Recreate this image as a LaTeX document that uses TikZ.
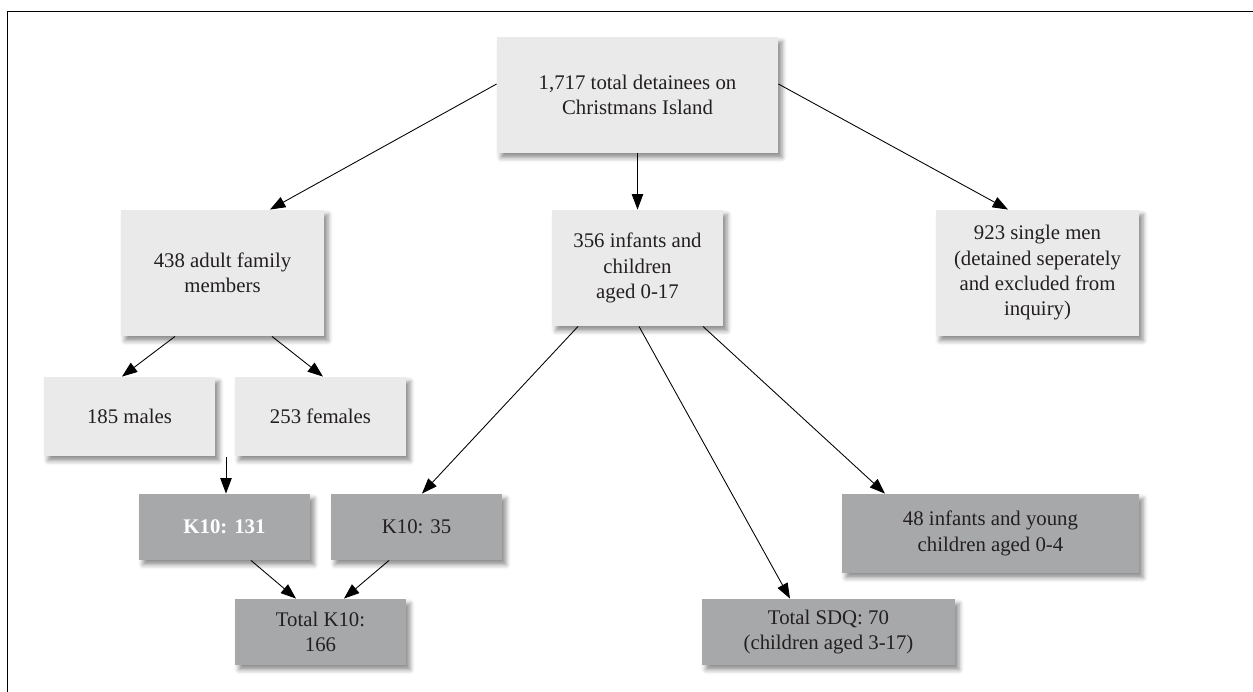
\documentclass[tikz,border=0pt]{standalone}
\usepackage{fontspec}
\setmainfont{Liberation Serif}
\usepackage{tikz}
\usetikzlibrary{calc}
\usetikzlibrary{arrows.meta}
\usetikzlibrary{shadows.blur}

\definecolor{boxlight}{HTML}{EAEAEA}
\definecolor{boxdark}{HTML}{A7A8AA}
\definecolor{txtdark}{HTML}{231F20}

\tikzset{
    basebox/.style={rectangle, inner sep=0pt, align=center, text=txtdark,
        font=\fontsize{15.6}{19}\selectfont,
        blur shadow={shadow xshift=3pt, shadow yshift=-3.5pt,
            shadow blur radius=3.5pt, shadow opacity=45}},
    lightbox/.style={basebox, fill=boxlight},
    darkbox/.style={basebox, fill=boxdark},
}

\begin{document}
\begin{tikzpicture}[x=0.75pt, y=-0.75pt, >={Triangle[length=11.5pt,width=8.5pt]},
    line width=0.65pt]
    \useasboundingbox (0,0) rectangle (1253,692);
    \draw[line width=1.3pt] (7.5,692) -- (7.5,11.5) -- (1253,11.5);

    \foreach \nm/\cx/\cy/\w/\h/\txt in {
        top/637.5/95/281/116/{1,717 total detainees on\\Christmans Island},
        adult/222.5/273/203/126/{438 adult family\\members},
        children/637.5/268/171/116/{356 infants and\\children\\aged 0-17},
        single/1037.5/273/203/126/{923 single men\\(detained seperately\\and excluded from\\inquiry)},
        males/129.5/416.5/171/79/{185 males},
        females/320.5/416.5/171/79/{253 females}} {
        \node[lightbox, minimum width=\w*0.75pt, minimum height=\h*0.75pt]
            (\nm) at (\cx,\cy) {\txt};
    }
    \foreach \nm/\cx/\cy/\w/\h/\txt in {
        k35/416.5/527/171/66/{K10: 35},
        totk10/320.5/632/171/66/{Total K10:\\166},
        sdq/828.5/632/253/66/{Total SDQ: 70\\(children aged 3-17)},
        young/990.5/533.5/297/79/{48 infants and young\\children aged 0-4}} {
        \node[darkbox, minimum width=\w*0.75pt, minimum height=\h*0.75pt]
            (\nm) at (\cx,\cy) {\txt};
    }
    \node[darkbox, minimum width=171*0.75pt, minimum height=66*0.75pt,
        text=white, font=\fontsize{15.6}{19}\selectfont\bfseries]
        (k131) at (224.5,527) {K10: 131};

    \draw[->] ($(top.west)+(0,-11)$) -- ($(adult.north)+(47.5,0)$);
    \draw[->] (top.south) -- (children.north);
    \draw[->] ($(top.east)+(0,-11)$) -- ($(single.north)+(-29.5,0)$);
    \draw[->] ($(adult.south)+(-47.5,0)$) -- ($(males.north)+(-7.5,0)$);
    \draw[->] ($(adult.south)+(49.5,0)$) -- ($(females.north)+(2.5,0)$);
    \coordinate (mk) at ($(k131.north |- males.south)+(1.5,1)$);
    \draw[->] (mk) -- ($(k131.north)+(1.5,0)$);
    \draw[->] ($(k131.south)+(26.5,0)$) -- ($(totk10.north)+(-24.5,0)$);
    \draw[->] ($(k35.south)+(-27.5,0)$) -- ($(totk10.north)+(23.5,0)$);
    \draw[->] ($(children.south)+(-59.5,0)$) -- ($(k35.north)+(5.5,0)$);
    \draw[->] ($(children.south)+(1.5,0)$) -- ($(sdq.north)+(-38.5,0)$);
    \draw[->] ($(children.south)+(65.5,0)$) -- ($(young.north)+(-105.5,0)$);
   % \draw[->] (females.south) -- (k35.north);
\end{tikzpicture}
\end{document}
